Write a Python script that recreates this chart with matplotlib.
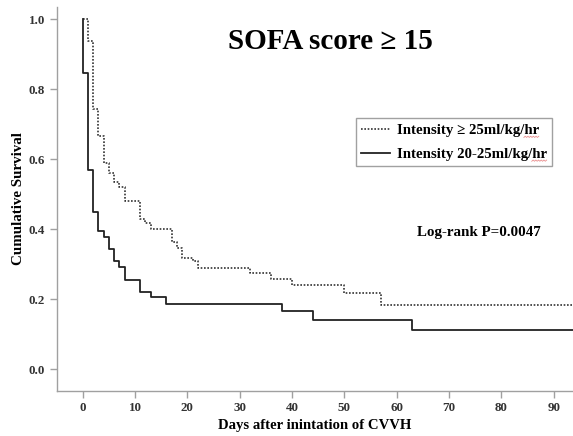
import matplotlib
matplotlib.use("Agg")
import matplotlib.pyplot as plt
from matplotlib.lines import Line2D
import numpy as np

# Kaplan-Meier steps (days, cumulative survival)
high_days = [0, 1, 2, 3, 4, 5, 6, 7, 8, 11, 12, 13, 17, 18, 19, 21, 22, 32, 36, 40, 50, 57, 94]
high_surv = [1.0, 0.939, 0.744, 0.667, 0.590, 0.562, 0.536, 0.522, 0.482, 0.428, 0.417, 0.401,
             0.363, 0.346, 0.317, 0.308, 0.289, 0.275, 0.258, 0.241, 0.217, 0.184, 0.184]

low_days = [0, 0, 1, 2, 3, 4, 5, 6, 7, 8, 11, 13, 16, 38, 44, 63, 94]
low_surv = [1.0, 0.846, 0.569, 0.448, 0.396, 0.378, 0.343, 0.310, 0.291, 0.256, 0.222, 0.207,
            0.187, 0.167, 0.141, 0.112, 0.112]

x_ticks = [0, 10, 20, 30, 40, 50, 60, 70, 80, 90]
y_ticks = [0.0, 0.2, 0.4, 0.6, 0.8, 1.0]
labels = ["Intensity \u2265 25ml/kg/hr", "Intensity 20-25ml/kg/hr"]

plt.rcParams['font.family'] = ['Liberation Serif', 'DejaVu Serif']
plt.rcParams['font.weight'] = 'bold'

fig = plt.figure(figsize=(5.73, 4.36), dpi=100)
ax = fig.add_axes([0.0995, 0.104, 0.9005, 0.881])

ax.plot(high_days, high_surv, drawstyle='steps-post', ls=(0, (1, 1)), color='#333333', lw=1.2)
ax.plot(low_days, low_surv, drawstyle='steps-post', ls='-', color='#222222', lw=1.3)

ax.set_xlim(-4.91, 93.7)
ax.set_ylim(-0.061, 1.036)
ax.set_xticks(x_ticks)
ax.set_yticks(y_ticks)
ax.set_yticklabels([f"{v:.1f}" for v in y_ticks])

for side in ['top', 'right']:
    ax.spines[side].set_visible(False)
for side in ['left', 'bottom']:
    ax.spines[side].set_color('#a0a0a0')
    ax.spines[side].set_linewidth(1.0)
ax.tick_params(colors='#a0a0a0', labelcolor='#333333', length=5, width=1.0, labelsize=9.4)
for lab in ax.get_xticklabels() + ax.get_yticklabels():
    lab.set_fontweight('bold')

ax.set_xlabel("Days after inintation of CVVH", fontsize=10.6, fontweight='bold', labelpad=3)
ax.set_ylabel("Cumulative Survival", fontsize=10.8, fontweight='bold', labelpad=3)

fig.text(0.577, 0.904, "SOFA score \u2265 15", ha='center', va='center', fontsize=21, fontweight='bold')

handles = [Line2D([], [], ls=(0, (1, 1)), color='#333333', lw=1.2),
           Line2D([], [], ls='-', color='#222222', lw=1.3)]
leg = ax.legend(handles, labels, loc='lower right', bbox_to_anchor=(0.959, 0.585),
                prop={'weight': 'bold', 'size': 10.7}, frameon=True, fancybox=False,
                edgecolor='#8a8a8a', handlelength=1.95, handletextpad=0.45,
                borderpad=0.35, labelspacing=0.7, borderaxespad=0)
leg.get_frame().set_linewidth(1.0)

ax.text(0.938, 0.413, "Log-rank P=0.0047", transform=ax.transAxes, ha='right', va='center',
        fontsize=10.8, fontweight='bold')

# faint red spell-check squiggle under "hr" in the legend entries
fig.canvas.draw()
renderer = fig.canvas.get_renderer()
W, H = fig.bbox.width, fig.bbox.height
for t in leg.get_texts():
    bb = t.get_window_extent(renderer)
    probe = fig.text(0, 0, "hr", fontproperties=t.get_fontproperties())
    w = probe.get_window_extent(renderer).width
    probe.remove()
    xs = np.linspace(bb.x1 - w, bb.x1, 12)
    ys = bb.y0 - 0.5 + np.where(np.arange(12) % 2 == 0, 0.0, 1.2)
    fig.add_artist(Line2D(xs / W, ys / H, color='#e06060', lw=0.6, alpha=0.7))

fig.savefig("out.png", dpi=100)
